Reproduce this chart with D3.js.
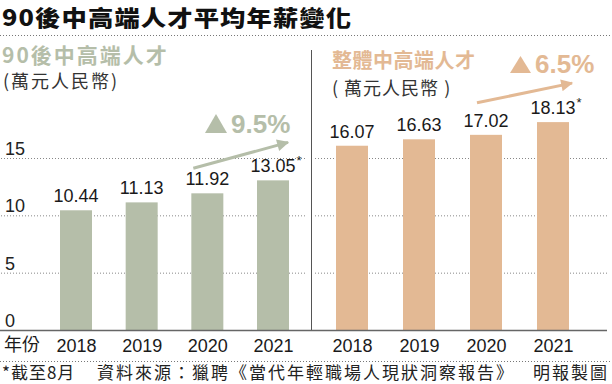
<!DOCTYPE html>
<html>
<head>
<meta charset="utf-8">
<script src="https://cdn.jsdelivr.net/npm/d3@7"></script>
<style>
  body { margin: 0; background: #fff; }
  svg { display: block; }
  text { font-family: "Liberation Sans", Arial, "Noto Sans CJK TC", sans-serif; }
  .cjk { font-family: "Noto Sans CJK TC", sans-serif; }
</style>
</head>
<body>
<svg width="612" height="384"></svg>
<script>
let width = 612,
    height = 384;

let years = ["2018", "2019", "2020", "2021"];
let youngValues = [10.44, 11.13, 11.92, 13.05];
let allValues = [16.07, 16.63, 17.02, 18.13];
let starred = [false, false, false, true];
let yTicks = [0, 5, 10, 15];
let growth = ["9.5%", "6.5%"];

let sage = "#b5bea9",
    tan = "#e3b994";

let svg = d3.select("svg");

let y = d3.scaleLinear().domain([0, 15]).range([330, 158]);
let xLeft = d3.scalePoint().domain(years).range([76, 273]);
let xRight = d3.scalePoint().domain(years).range([352, 553]);
let barW = 32;

// title (the print font is a wide one, so stretch it a bit) + dotted rules
svg.append("text")
  .attr("class", "cjk")
  .attr("transform", "translate(2,26) scale(1.15,1)")
  .attr("font-size", 22).attr("font-weight", 900)
  .attr("letter-spacing", 1)
  .attr("fill", "#111")
  .text("90後中高端人才平均年薪變化");

svg.append("line")
  .attr("x1", 0).attr("x2", width).attr("y1", 35.5).attr("y2", 35.5)
  .attr("stroke", "#777").attr("stroke-dasharray", "1,2");

svg.append("line")
  .attr("x1", 0).attr("x2", width).attr("y1", 361.5).attr("y2", 361.5)
  .attr("stroke", "#777").attr("stroke-dasharray", "1,2");

// gridlines
let gridL = svg.append("g")
  .attr("transform", "translate(305,0)")
  .call(d3.axisLeft(y).tickValues(yTicks.slice(1)).tickSize(305).tickFormat(""));
let gridR = svg.append("g")
  .attr("transform", "translate(607,0)")
  .call(d3.axisLeft(y).tickValues(yTicks.slice(1)).tickSize(292).tickFormat(""));
[gridL, gridR].forEach(g => {
  g.select(".domain").remove();
  g.selectAll("line")
    .attr("stroke", "#888")
    .attr("stroke-dasharray", "1,2");
});

// y tick labels, sitting above their gridlines
svg.append("g")
  .selectAll("text")
  .data(yTicks)
  .enter().append("text")
    .attr("x", 5)
    .attr("y", d => y(d) - 3)
    .attr("font-size", 18)
    .attr("fill", "#222")
    .text(d => d);

// divider
svg.append("line")
  .attr("x1", 311.5).attr("x2", 311.5).attr("y1", 50).attr("y2", 330)
  .attr("stroke", "#555").attr("stroke-width", 1);

let drawPanel = (x, values, color) => {
  svg.append("g")
    .selectAll("rect")
    .data(values)
    .enter().append("rect")
      .attr("x", (d, i) => x(years[i]) - barW / 2)
      .attr("y", d => y(d))
      .attr("width", barW)
      .attr("height", d => y(0) - y(d))
      .attr("fill", color);

  let labels = svg.append("g")
    .selectAll("g")
    .data(values)
    .enter().append("g");

  labels.append("text")
    .attr("x", (d, i) => x(years[i]))
    .attr("y", d => y(d) - 8)
    .attr("text-anchor", "middle")
    .attr("font-size", 18)
    .attr("fill", "#1a1a1a")
    .text(d => d.toFixed(2));

  labels.filter((d, i) => starred[i])
    .append("text")
      .attr("x", function(d) {
        let t = d3.select(this.parentNode).select("text").node();
        return x(years[years.length - 1]) + t.getComputedTextLength() / 2 + 1;
      })
      .attr("y", d => y(d) - 15)
      .attr("font-size", 13)
      .attr("fill", "#1a1a1a")
      .text("*");

  let xAxis = svg.append("g")
    .attr("transform", "translate(0,333)")
    .call(d3.axisBottom(x).tickSize(0).tickPadding(4));
  xAxis.select(".domain").remove();
  xAxis.selectAll("text")
    .attr("font-size", 18)
    .attr("font-family", "Liberation Sans, Arial, sans-serif")
    .attr("fill", "#1a1a1a")
    .attr("dy", "0.85em");
};

drawPanel(xLeft, youngValues, sage);
drawPanel(xRight, allValues, tan);

// baseline
svg.append("line")
  .attr("x1", 0).attr("x2", 607).attr("y1", 330.5).attr("y2", 330.5)
  .attr("stroke", "#666").attr("stroke-width", 1.5);

svg.append("text")
  .attr("class", "cjk")
  .attr("x", 4).attr("y", 351)
  .attr("font-size", 18)
  .attr("fill", "#1a1a1a")
  .text("年份");

// panel headings
svg.append("text")
  .attr("class", "cjk")
  .attr("x", 2).attr("y", 63)
  .attr("font-size", 21).attr("font-weight", 700)
  .attr("letter-spacing", 2)
  .attr("fill", sage)
  .text("90後中高端人才");

svg.append("text")
  .attr("class", "cjk")
  .attr("x", 3).attr("y", 88)
  .attr("font-size", 18)
  .attr("letter-spacing", 2)
  .attr("fill", "#333")
  .text("(萬元人民幣)");

svg.append("text")
  .attr("class", "cjk")
  .attr("x", 332).attr("y", 68)
  .attr("font-size", 20).attr("font-weight", 700)
  .attr("letter-spacing", 0.5)
  .attr("fill", tan)
  .text("整體中高端人才");

svg.append("text")
  .attr("class", "cjk")
  .attr("x", 332).attr("y", 95)
  .attr("font-size", 18)
  .attr("letter-spacing", 1)
  .attr("fill", "#333")
  .text("( 萬元人民幣 )");

// growth arrows
let defs = svg.append("defs");
[["headL", sage], ["headR", tan]].forEach(([id, c]) => {
  defs.append("marker")
    .attr("id", id)
    .attr("viewBox", "0 0 10 10")
    .attr("refX", 9).attr("refY", 5)
    .attr("markerWidth", 5).attr("markerHeight", 4)
    .attr("orient", "auto")
    .attr("markerUnits", "strokeWidth")
    .append("path")
      .attr("d", "M0,0L10,5L0,10Z")
      .attr("fill", c);
});

let arrow = (x, values, color, id, a, b) => {
  svg.append("line")
    .attr("x1", x(years[2]) + a[0]).attr("y1", y(values[2]) + a[1])
    .attr("x2", x(years[3]) + b[0]).attr("y2", y(values[3]) + b[1])
    .attr("stroke", color).attr("stroke-width", 3)
    .attr("marker-end", "url(#" + id + ")");
};
arrow(xLeft, youngValues, sage, "headL", [-14, -25], [15, -38]);
arrow(xRight, allValues, tan, "headR", [-9, -32], [19, -39]);

let badge = (x0, base, color, label, tw, th) => {
  svg.append("path")
    .attr("d", `M${x0},${base}L${x0 + tw / 2},${base - th}L${x0 + tw},${base}Z`)
    .attr("fill", color);
  svg.append("text")
    .attr("x", x0 + tw + 4).attr("y", base)
    .attr("font-size", 26).attr("font-weight", 700)
    .attr("fill", color)
    .text(label);
};
badge(205, 133, sage, growth[0], 22, 19);
badge(510, 73, tan, growth[1], 21, 17);

// footnote
let foot = svg.append("g").attr("fill", "#222").attr("font-size", 17);
foot.append("text").attr("class", "cjk").attr("x", 2).attr("y", 379).attr("letter-spacing", 1)
  .text("*截至8月");
foot.append("text").attr("class", "cjk").attr("x", 97).attr("y", 379).attr("letter-spacing", 2)
  .text("資料來源：獵聘《當代年輕職場人現狀洞察報告》");
foot.append("text").attr("class", "cjk").attr("x", 533).attr("y", 379).attr("letter-spacing", 2)
  .text("明報製圖");
</script>
</body>
</html>
